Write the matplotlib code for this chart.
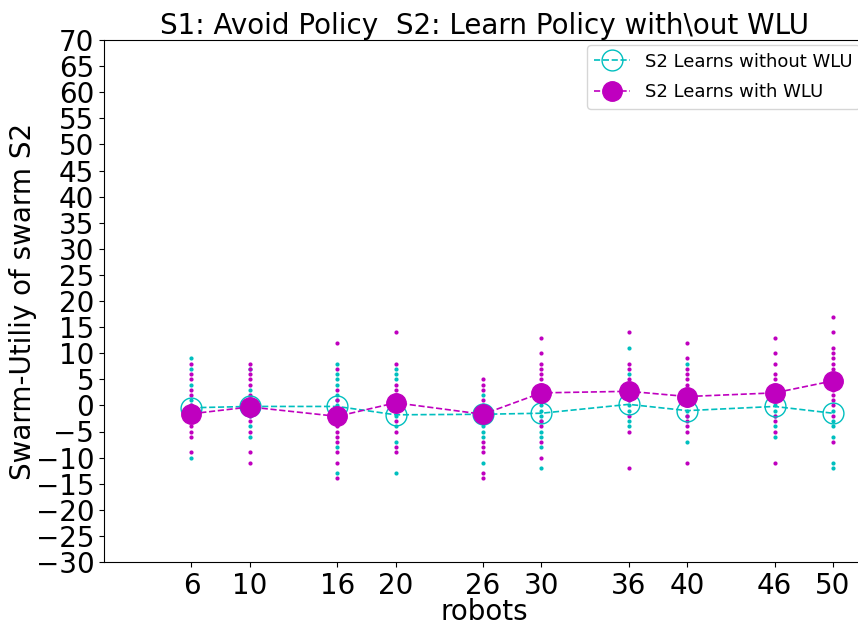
import matplotlib
matplotlib.use("Agg")
import matplotlib.pyplot as plt
import numpy as np

robots = [6, 10, 16, 20, 26, 30, 36, 40, 46, 50]

mean_without = [-0.45, -0.2, -0.2, -1.8, -1.7, -1.5, 0.2, -1.0, -0.2, -1.5]
mean_with = [-1.6, -0.3, -2.1, 0.5, -1.7, 2.4, 2.7, 1.7, 2.4, 4.7]

# individual run values (dots)
runs_without = [
    [9, 7, 4, 1, 0, -1, -2, -10],
    [7, 3, 1, 0, -1, -2, -4, -6],
    [8, 6, 5, 4, 2, 1, 0, -1, -2, -8, -13],
    [7, 6, 5, 1, 0, -1, -2, -4, -7, -13],
    [2, 0, -1, -2, -3, -4, -5, -6, -11],
    [1, 0, -1, -2, -3, -5, -6, -8, -12],
    [11, 6, 3, 1, 0, -1, -3, -4],
    [8, 3, 0, -1, -2, -7],
    [4, 0, -1, -2, -4, -6],
    [-1, -3, -4, -6, -11, -12],
]
runs_with = [
    [8, 6, 5, 3, 2, 0, -1, -2, -3, -4, -5, -6, -9],
    [8, 7, 6, 5, 4, 2, 1, 0, -1, -2, -3, -5, -9, -11],
    [12, 7, 3, 1, -1, -2, -3, -4, -5, -6, -7, -9, -11, -14],
    [14, 8, 4, 3, 2, 1, 0, -1, -3, -5, -8, -9],
    [5, 4, 3, 1, -1, -2, -3, -7, -8, -9, -13, -14],
    [13, 10, 8, 7, 6, 5, 4, 3, 2, -3, -4, -7, -10],
    [14, 8, 7, 5, 4, 2, 1, -2, -5, -12],
    [12, 9, 7, 6, 5, 4, 2, 1, 0, -2, -3, -4, -5, -11],
    [13, 10, 8, 6, 5, 3, 2, 1, -2, -3, -5, -11],
    [17, 14, 11, 10, 9, 8, 7, 6, 5, 3, 2, 1, 0, -2, -7],
]

yticks = list(range(-30, 71, 5))

fig = plt.figure(figsize=(8.58, 6.28), dpi=100)
ax = fig.add_axes([104 / 858, 66 / 628, 761 / 858, 522 / 628])

for x, vals in zip(robots, runs_without):
    ax.plot([x] * len(vals), vals, linestyle="none", marker="o", color="c",
            markersize=3, markeredgewidth=0)
for x, vals in zip(robots, runs_with):
    ax.plot([x] * len(vals), vals, linestyle="none", marker="o", color="m",
            markersize=3, markeredgewidth=0)

ax.plot(robots, mean_without, linestyle="--", color="c", marker="o",
        markersize=15, markerfacecolor="none", markeredgecolor="c",
        markeredgewidth=1, linewidth=1.2, label="S2 Learns without WLU")
ax.plot(robots, mean_with, linestyle="--", color="m", marker="o",
        markersize=14, markerfacecolor="m", markeredgecolor="m",
        linewidth=1.2, label="S2 Learns with WLU")

ax.set_xlim(0, 52.2)
ax.set_ylim(-30, 70)
ax.set_xticks(robots)
ax.set_xticklabels([str(r) for r in robots])
ax.set_yticks(yticks)
ax.tick_params(labelsize=20)
ax.set_xlabel("robots", fontsize=20, labelpad=-1)
ax.set_ylabel("Swarm-Utiliy of swarm S2", fontsize=20)
ax.yaxis.set_label_coords(-(104 - 37) / 761, 0.5)
ax.set_title("S1: Avoid Policy  S2: Learn Policy with\\out WLU", fontsize=20, pad=4)
ax.legend(loc="upper right", fontsize=13, labelspacing=0.7, borderaxespad=0.3)

fig.savefig("out.png", dpi=100)
